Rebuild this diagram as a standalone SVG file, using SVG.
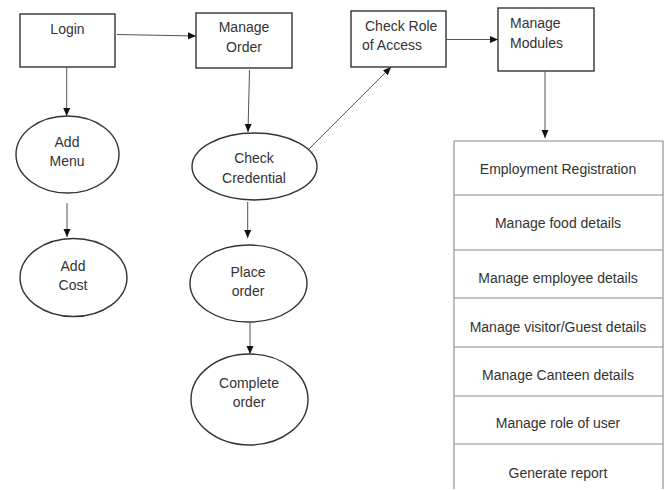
<svg xmlns="http://www.w3.org/2000/svg" width="667" height="490" viewBox="0 0 667 490">
<style>
.box{fill:#fff;stroke:#333;stroke-width:1.4}
.ell{fill:#fff;stroke:#333;stroke-width:1.4}
.tbl{fill:none;stroke:#8a8a8a;stroke-width:1.1}
text{font-family:"Liberation Sans",Arial,sans-serif;font-size:14px;fill:#333}
.c{text-anchor:middle}
.conn line{stroke:#555;stroke-width:1;marker-end:url(#ah)}
</style>
<defs>
<marker id="ah" markerUnits="userSpaceOnUse" markerWidth="9" markerHeight="8" refX="8" refY="3.5" orient="auto">
<path d="M0,0 L8,3.5 L0,7 z" fill="#111"/>
</marker>
</defs>
<rect width="667" height="490" fill="#fff"/>
<g id="login"><rect class="box" x="20" y="14" width="95" height="53"/><text class="c" x="67.5" y="34">Login</text></g>
<g id="manage-order"><rect class="box" x="196" y="13" width="96" height="55"/><text class="c" x="244" y="32">Manage</text><text class="c" x="244" y="52">Order</text></g>
<g id="check-role"><rect class="box" x="351" y="11" width="95" height="56"/><text x="365" y="31">Check Role</text><text x="362" y="50">of Access</text></g>
<g id="manage-modules"><rect class="box" x="498" y="8" width="96" height="63"/><text x="510" y="28">Manage</text><text x="510" y="48">Modules</text></g>
<g id="add-menu"><ellipse class="ell" cx="67.5" cy="154.5" rx="51.5" ry="38.5"/><text class="c" x="67" y="147">Add</text><text class="c" x="67" y="166">Menu</text></g>
<g id="add-cost"><ellipse class="ell" cx="73.5" cy="277.5" rx="53.5" ry="39"/><text class="c" x="73" y="270.5">Add</text><text class="c" x="73" y="290">Cost</text></g>
<g id="check-credential"><ellipse class="ell" cx="254.5" cy="166.5" rx="62.5" ry="33.5"/><text class="c" x="254" y="163">Check</text><text class="c" x="254" y="183">Credential</text></g>
<g id="place-order"><ellipse class="ell" cx="248.5" cy="283.5" rx="58.5" ry="38.5"/><text class="c" x="248" y="277">Place</text><text class="c" x="248" y="296">order</text></g>
<g id="complete-order"><ellipse class="ell" cx="249.5" cy="399.5" rx="58.5" ry="45.5"/><text class="c" x="249" y="388">Complete</text><text class="c" x="249" y="407">order</text></g>
<g id="modules-table">
<path class="tbl" d="M454,489 V141 H663 V489 M454,195 H663 M454,250 H663 M454,298 H663 M454,347 H663 M454,396 H663 M454,444 H663"/>
<text class="c" x="558" y="173.5">Employment Registration</text>
<text class="c" x="558" y="228">Manage food details</text>
<text class="c" x="558" y="282.5">Manage employee details</text>
<text class="c" x="558" y="331.5">Manage visitor/Guest details</text>
<text class="c" x="558" y="379.5">Manage Canteen details</text>
<text class="c" x="558" y="427.5">Manage role of user</text>
<text class="c" x="558" y="477.5">Generate report</text>
</g>
<g id="connectors" class="conn">
<line x1="117" y1="34.5" x2="196" y2="36"/>
<line x1="66.7" y1="67" x2="66.7" y2="116"/>
<line x1="67" y1="203" x2="67" y2="237"/>
<line x1="249.5" y1="70" x2="248" y2="132"/>
<line x1="309" y1="149" x2="391" y2="67"/>
<line x1="247.7" y1="202" x2="247.7" y2="238"/>
<line x1="250" y1="323" x2="250" y2="354"/>
<line x1="446" y1="39.5" x2="498" y2="39.5"/>
<line x1="545" y1="71" x2="545" y2="138"/>
</g>
</svg>
